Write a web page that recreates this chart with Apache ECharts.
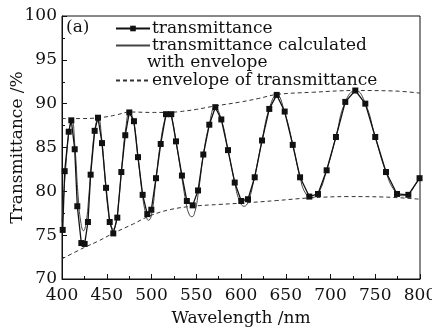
<!DOCTYPE html>
<html>
<head>
<meta charset="utf-8">
<script src="https://cdn.jsdelivr.net/npm/echarts@6/dist/echarts.min.js"></script>
<style>
html,body{margin:0;padding:0;background:#fff;}
#chart{width:432px;height:332px;}
</style>
</head>
<body>
<div id="chart"></div>
<script>
// measured transmittance (wavelength nm, T %)
var measuredPts = [
	[400.8,75.6],[403,82.3],[407.5,86.8],[410.4,88.1],[414.2,84.8],[417.1,78.3],[421.6,74.1],[425.3,74.0],
	[429,76.5],[432,81.9],[436.5,86.9],[440.2,88.4],[444.7,85.5],[449.2,80.4],[453.3,76.5],[457.3,75.2],
	[461.8,77.0],[466.3,82.2],[470.7,86.4],[475.2,89.0],[480.4,88.0],[484.9,83.9],[490.1,79.6],[495.3,77.4],
	[499.8,77.9],[505,81.5],[510.3,85.4],[516.2,88.8],[522.1,88.8],[527.4,85.7],[534,81.8],[539.5,78.9],
	[546,78.4],[552,80.1],[557.9,84.2],[564.6,87.6],[571.3,89.6],[578,88.2],[585.5,84.7],[593,81.0],
	[600.3,78.9],[607.8,79.1],[615.3,81.6],[623.5,85.8],[631.6,89.4],[639.9,91.0],[648.8,89.1],[657.8,85.3],
	[666,81.6],[676.3,79.4],[686,79.7],[695.7,82.4],[706.1,86.2],[716.5,90.2],[727.7,91.5],[738.9,90.0],
	[750,86.2],[762,82.2],[774.3,79.7],[787,79.6],[799.5,81.5]
];
// transmittance calculated with envelope
var calcPts = [
	[400,76.5],[404,82.5],[408,87.0],[411,88.2],[414.5,85.0],[418,79.5],[421,76.5],[424,75.5],[427,76.5],
	[430,79.5],[433,83.5],[437,87.2],[440.5,88.4],[444.5,85.8],[448.5,81.0],[452,77.5],[455,76.0],[457.5,75.7],
	[460,76.2],[463,78.5],[467,83.0],[471,87.0],[475.5,89.0],[480,88.0],[485,83.8],[490,79.5],[493.5,77.5],
	[496.5,76.7],[500,77.3],[505,81.3],[510,85.5],[516,88.6],[519,88.9],[522,88.6],[527.5,85.6],[534,81.5],
	[539,78.5],[542,77.4],[545,77.1],[548,77.5],[552,79.6],[558,84.2],[564.5,87.6],[571,89.6],[578,88.2],
	[585.5,84.7],[593,81.0],[598,79.0],[603.4,78.3],[608,78.8],[615,81.6],[623.5,85.8],[631.5,89.4],[640,91.0],
	[648.5,89.1],[658,85.3],[666,81.6],[672,79.8],[679,79.3],[686,79.7],[695.7,82.4],[706,86.2],[716.5,90.2],
	[728,91.5],[739,90.0],[750,86.2],[762,82.2],[772,80.0],[780,79.5],[788,79.8],[795,80.8],[800,81.5]
];
// envelopes
var upperEnv = [
	[400,88.3],[420,88.3],[442,88.4],[460,88.7],[476,89.05],[500,89.0],[517,89.0],[532,89.1],[550,89.35],
	[569,89.7],[600,90.2],[620,90.6],[640,91.05],[680,91.3],[728,91.5],[770,91.45],[800,91.2]
];
var lowerEnv = [
	[400,72.3],[425,73.6],[440,74.3],[457,75.2],[480,76.3],[498,77.2],[520,77.9],[546,78.3],[575,78.5],
	[600,78.65],[640,78.95],[677,79.25],[720,79.4],[760,79.35],[800,79.1]
];
var xTicks = {min:400, max:800, step:50};
var yTicks = {min:70, max:100, step:5};
var names = ['transmittance','transmittance calculated','envelope of transmittance'];

var font = 'DejaVu Serif';
var chart = echarts.init(document.getElementById('chart'));
var noSymbol = {color:'rgba(0,0,0,0)',borderColor:'rgba(0,0,0,0)',borderWidth:0};

var option = {
	animation:false,
	backgroundColor:'#fff',
	grid:{left:62,right:12,top:16,bottom:53,outerBoundsMode:'none',containLabel:false,
		show:true,borderColor:'#111',borderWidth:1,backgroundColor:'transparent'},
	legend:[{
		orient:'vertical',left:110,top:15,itemWidth:34,itemHeight:7,itemGap:0,
		textStyle:{fontFamily:font,fontSize:17,color:'#111',padding:[0,0,0,-3]},
		data:[names[0],{name:names[1],itemStyle:noSymbol}]
	},{
		orient:'vertical',left:110,top:67,itemWidth:34,itemHeight:7,itemGap:0,
		textStyle:{fontFamily:font,fontSize:17,color:'#111',padding:[0,0,0,-3]},
		data:[{name:names[2],itemStyle:noSymbol}]
	}],
	graphic:[
		{type:'text',left:66,top:19,style:{text:'(a)',font:'17px "DejaVu Serif"',fill:'#111'}},
		{type:'text',left:147,top:54,style:{text:'with envelope',font:'17px "DejaVu Serif"',fill:'#111'}}
	],
	xAxis:{
		type:'value',min:xTicks.min,max:xTicks.max,interval:xTicks.step,
		name:'Wavelength /nm',nameLocation:'middle',nameGap:31,nameMoveOverlap:false,
		nameTextStyle:{fontFamily:font,fontSize:17,color:'#111'},
		axisLine:{lineStyle:{color:'#111',width:1}},
		axisTick:{inside:true,length:5,lineStyle:{color:'#111'}},
		minorTick:{show:true,splitNumber:2,length:3,lineStyle:{color:'#111'}},
		axisLabel:{fontFamily:font,fontSize:17,color:'#111',margin:8},
		splitLine:{show:false}
	},
	yAxis:{
		type:'value',min:yTicks.min,max:yTicks.max,interval:yTicks.step,
		name:'Transmittance /%',nameLocation:'middle',nameGap:36,nameMoveOverlap:false,
		nameTextStyle:{fontFamily:font,fontSize:17,color:'#111'},
		axisLine:{show:true,lineStyle:{color:'#111',width:1}},
		axisTick:{inside:true,length:5,lineStyle:{color:'#111'}},
		minorTick:{show:true,splitNumber:2,length:3,lineStyle:{color:'#111'}},
		axisLabel:{fontFamily:font,fontSize:17,color:'#111',margin:5},
		splitLine:{show:false}
	},
	series:[{
		name:names[2],type:'line',data:upperEnv,smooth:0.4,symbol:'none',z:1,
		lineStyle:{color:'#333',width:1,type:[4,3]},itemStyle:{color:'#333'}
	},{
		name:names[2],type:'line',data:lowerEnv,smooth:0.4,symbol:'none',z:1,
		lineStyle:{color:'#333',width:1,type:[4,3]},itemStyle:{color:'#333'}
	},{
		name:names[1],type:'line',data:calcPts,smooth:0.5,symbol:'none',z:2,
		lineStyle:{color:'#444',width:1},itemStyle:{color:'#444'}
	},{
		name:names[0],type:'line',data:measuredPts,symbol:'rect',symbolSize:6,z:3,
		lineStyle:{color:'#111',width:1.3},itemStyle:{color:'#111'}
	}]
};
chart.setOption(option);
</script>
</body>
</html>
